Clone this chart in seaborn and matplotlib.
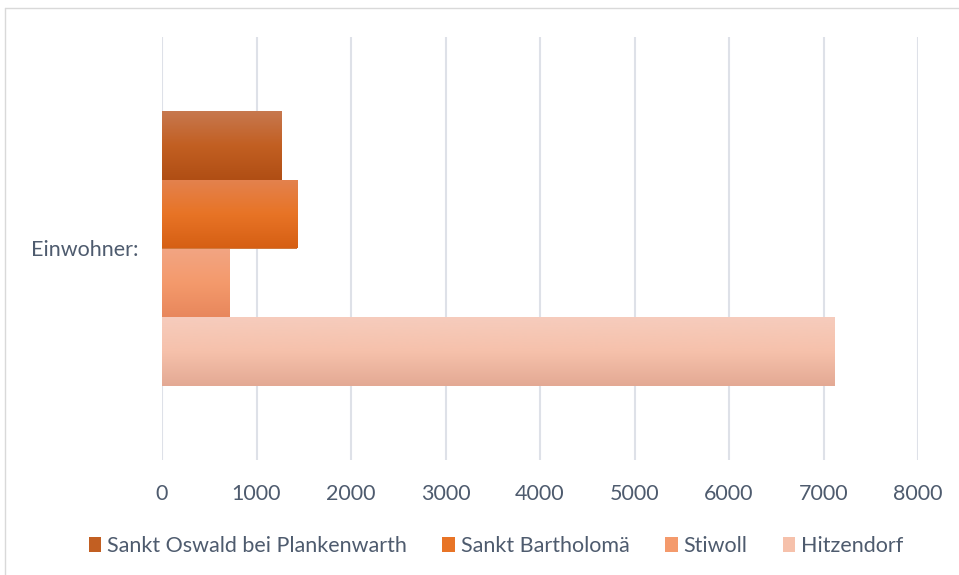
import numpy as np
import pandas as pd
import matplotlib
matplotlib.use("Agg")
import matplotlib.pyplot as plt
import seaborn as sns
from matplotlib.patches import Patch
from matplotlib.lines import Line2D
from matplotlib.colors import LinearSegmentedColormap

# -----------------------------
# Data
# -----------------------------
category = ["Einwohner:"]
gemeinden = ["Sankt Oswald bei Plankenwarth", "Sankt Bartholomä", "Stiwoll", "Hitzendorf"]
einwohner = [1260, 1430, 710, 7120]
x_ticks = [0, 1000, 2000, 3000, 4000, 5000, 6000, 7000, 8000]

# gradient colours per series (top, middle, bottom)
grad_colors = [
    ["#C7784F", "#C25F22", "#B04E14"],
    ["#E3824F", "#E87426", "#D65F14"],
    ["#F2A583", "#F49A6C", "#E8875C"],
    ["#F6CCBD", "#F6C1AB", "#E3A994"],
]
mid_colors = [c[1] for c in grad_colors]
text_color = "#4E5B6E"

df = pd.DataFrame({
    "Kategorie": category * len(gemeinden),
    "Gemeinde": gemeinden,
    "Einwohner": einwohner,
})

# -----------------------------
# Plot
# -----------------------------
sns.set_style("white")
plt.rcParams["font.family"] = ["Lato", "DejaVu Sans"]

fig = plt.figure(figsize=(9.59, 5.75), dpi=100)
ax = fig.add_axes([162 / 959, 1 - 460 / 575, (918 - 162) / 959, (460 - 37) / 575])

sns.barplot(data=df, x="Einwohner", y="Kategorie", hue="Gemeinde",
            hue_order=gemeinden, palette=mid_colors, orient="h",
            width=0.65, ax=ax, legend=False, linewidth=0)

# gradient fill inside each bar
for patch, cols in zip(ax.patches, grad_colors):
    x0, y0 = patch.get_x(), patch.get_y()
    w, h = patch.get_width(), patch.get_height()
    cmap = LinearSegmentedColormap.from_list("g", cols)
    grad = np.linspace(0, 1, 256).reshape(-1, 1)
    im = ax.imshow(grad, cmap=cmap, aspect="auto",
                   extent=[x0, x0 + w, y0 + h, y0], origin="upper", zorder=3)
    im.set_clip_path(patch)

ax.set_xlim(0, 8000)
ax.set_ylim(0.5, -0.5)
ax.set_xticks(x_ticks)
ax.set_xticklabels([str(t) for t in x_ticks])
ax.grid(axis="x", color="#DEE1E8", linewidth=1.5)
ax.grid(axis="y", visible=False)
ax.set_axisbelow(True)
for s in ax.spines.values():
    s.set_visible(False)
ax.tick_params(axis="x", length=0, pad=17, labelsize=15.5, labelcolor=text_color)
ax.tick_params(axis="y", length=0, pad=17, labelsize=15.5, labelcolor=text_color)
ax.set_xlabel("")
ax.set_ylabel("")

handles = [Patch(facecolor=c, edgecolor="none") for c in mid_colors]
fig.legend(handles, gemeinden, loc="center", bbox_to_anchor=(0.517, 1 - 546 / 575),
           ncol=4, frameon=False, fontsize=15.5, labelcolor=text_color,
           handlelength=0.6, handleheight=0.75, handletextpad=0.25,
           columnspacing=1.65)

# chart area border (top and left edges visible)
fig.add_artist(Line2D([5 / 959, 1], [1 - 8 / 575, 1 - 8 / 575], color="#D9D9D9", linewidth=1))
fig.add_artist(Line2D([5 / 959, 5 / 959], [0, 1 - 8 / 575], color="#D9D9D9", linewidth=1))

fig.savefig("out.png", dpi=100)
